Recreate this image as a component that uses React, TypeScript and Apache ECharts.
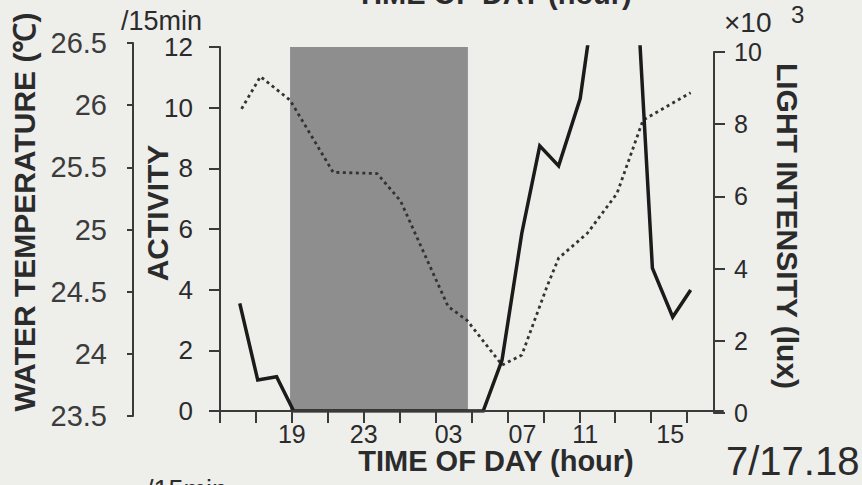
import React, { useEffect, useRef } from "react";
import * as echarts from "echarts";

// Time axis: clock hours counted on from 15:00 on 7/17 (27 = 03:00 next day)
const hourTicks = [15, 17, 19, 21, 23, 25, 27, 29, 31, 33, 35, 37, 39, 41];
const hourLabelAt = [19, 23, 27, 31, 35, 39];

// Dark period (lights off), in the same clock hours
const darkStart = 18.9;
const darkEnd = 28.8;

// Activity counts per 15 min
const activityHours = [
  16.1, 17.1, 18.15, 19.1, 20.1, 21.1, 22.1, 23.1, 24.1, 25.1, 26.1, 27.1, 28.1,
  29.1, 29.65, 30.7, 31.8, 32.8, 33.85, 35.05, 36.05, 37.05, 38.05, 39.07, 40.2, 41.2,
];
const activityValues = [
  3.55, 1.02, 1.13, 0, 0, 0, 0, 0, 0, 0, 0, 0, 0,
  0, 0, 1.68, 5.86, 8.74, 8.08, 10.3, 14.5, 16, 15.6, 4.71, 3.1, 3.99,
];

// Water temperature (°C)
const tempHours = [
  16.2, 17.25, 18.9, 21.3, 23.75, 25.05, 26.7, 27.7, 28.75, 30.7, 31.8, 33.2,
  33.85, 35.45, 37.1, 38.55, 41.2,
];
const tempValues = [
  25.97, 26.23, 26.04, 25.46, 25.45, 25.23, 24.7, 24.38, 24.27, 23.91, 23.99,
  24.54, 24.77, 24.97, 25.29, 25.88, 26.1,
];

// Axis tick settings
const activityTicks = { min: 0, max: 12, interval: 2 };
const lightTicks = { min: 0, max: 10, interval: 2 };
const tempTicks = { min: 23.5, max: 26.5, interval: 0.5 };

const FONT = "'Liberation Sans', Arial, Helvetica, sans-serif";
const INK = "#2b2b2b";
const AXIS = "#3a3a3a";
const BG = "#eeeeeb";

// Small horizontal nudges of the hour labels (px)
const labelNudge: Record<number, number> = { 19: 0, 23: 0, 27: 13, 31: 15, 35: 6, 39: 19 };

export default function App() {
  const ref = useRef<HTMLDivElement>(null);

  useEffect(() => {
    document.body.style.margin = "0";
    document.body.style.background = BG;
    if (!ref.current) return;
    const chart = echarts.init(ref.current, undefined, { renderer: "svg" });

    const pairs = (xs: number[], ys: number[]) => xs.map((x, i) => [x, ys[i]]);

    const rich: Record<string, any> = {};
    hourLabelAt.forEach((h) => {
      rich["h" + h] = {
        fontSize: 25,
        fontFamily: FONT,
        color: INK,
        padding: [0, 0, 0, labelNudge[h] * 2],
      };
    });

    const gridBase = { left: 220, right: 139, outerBoundsMode: "none", containLabel: false };

    const hiddenX = (gridIndex: number) => ({
      type: "value",
      gridIndex,
      min: 15,
      max: 43,
      show: false,
    });

    const boldText = (text: string, x: number, y: number, rotation: number, size: number) => ({
      type: "text",
      x,
      y,
      rotation,
      silent: true,
      style: {
        text,
        fill: INK,
        font: `bold ${size}px ${FONT}`,
        align: "center",
        verticalAlign: "middle",
      },
    });

    const plainText = (
      text: string,
      x: number,
      y: number,
      size: number,
      align: string = "left"
    ) => ({
      type: "text",
      x,
      y,
      silent: true,
      style: {
        text,
        fill: INK,
        font: `${size}px ${FONT}`,
        align,
        verticalAlign: "middle",
      },
    });

    chart.setOption({
      animation: false,
      backgroundColor: BG,
      grid: [
        { ...gridBase, top: 47, bottom: 74 },
        { ...gridBase, top: 52, bottom: 72 },
        { ...gridBase, top: 43, bottom: 69 },
      ],
      xAxis: [
        {
          type: "value",
          gridIndex: 0,
          min: 15,
          max: 43,
          z: 5,
          splitLine: { show: false },
          axisLine: { show: true, lineStyle: { color: AXIS, width: 2 } },
          axisTick: {
            show: true,
            customValues: hourTicks,
            length: 12,
            inside: false,
            lineStyle: { color: AXIS, width: 2 },
          },
          axisLabel: {
            customValues: hourLabelAt,
            margin: 10,
            fontSize: 25,
            fontFamily: FONT,
            color: INK,
            formatter: (v: number) => {
              const h = Math.round(v);
              const s = String(h % 24).padStart(2, "0");
              return `{h${h}|${s}}`;
            },
            rich,
          },
        },
        hiddenX(1),
        hiddenX(2),
      ],
      yAxis: [
        {
          type: "value",
          gridIndex: 0,
          position: "left",
          ...activityTicks,
          z: 5,
          splitLine: { show: false },
          axisLine: { show: true, lineStyle: { color: AXIS, width: 2 } },
          axisTick: { show: true, length: 11, inside: false, lineStyle: { color: AXIS, width: 2 } },
          axisLabel: { margin: 27, fontSize: 26, fontFamily: FONT, color: INK },
        },
        {
          type: "value",
          gridIndex: 1,
          position: "right",
          offset: -9,
          ...lightTicks,
          z: 5,
          splitLine: { show: false },
          axisLine: { show: true, lineStyle: { color: AXIS, width: 2 } },
          axisTick: { show: true, length: 11, inside: false, lineStyle: { color: AXIS, width: 2 } },
          axisLabel: { margin: 20, fontSize: 25, fontFamily: FONT, color: INK },
        },
        {
          type: "value",
          gridIndex: 2,
          position: "left",
          offset: 87,
          ...tempTicks,
          z: 5,
          splitLine: { show: false },
          axisLine: { show: true, lineStyle: { color: AXIS, width: 2 } },
          axisTick: { show: true, length: 6, inside: false, lineStyle: { color: AXIS, width: 2 } },
          axisLabel: {
            margin: 26,
            fontSize: 29,
            fontFamily: FONT,
            color: "#3c3c3c",
            formatter: (v: number) => (Number.isInteger(v) ? String(v) : v.toFixed(1)),
          },
        },
      ],
      series: [
        {
          name: "ACTIVITY",
          type: "line",
          xAxisIndex: 0,
          yAxisIndex: 0,
          data: pairs(activityHours, activityValues),
          symbol: "none",
          clip: true,
          z: 4,
          lineStyle: { color: "#1b1b1b", width: 3.5, join: "miter" },
          markArea: {
            silent: true,
            itemStyle: { color: "#8e8e8e", opacity: 1 },
            label: { show: false },
            data: [[{ xAxis: darkStart }, { xAxis: darkEnd }]],
          },
        },
        {
          name: "WATER TEMPERATURE",
          type: "line",
          xAxisIndex: 2,
          yAxisIndex: 2,
          data: pairs(tempHours, tempValues),
          symbol: "none",
          clip: true,
          z: 3,
          lineStyle: { color: "#333333", width: 2.8, type: [3, 3.5] },
        },
      ],
      graphic: [
        boldText("WATER TEMPERATURE (℃)", 24, 212, Math.PI / 2, 30),
        boldText("ACTIVITY", 157, 213, Math.PI / 2, 30),
        boldText("LIGHT INTENSITY (lux)", 787, 226, -Math.PI / 2, 30),
        boldText("TIME OF DAY (hour)", 496, 461, 0, 29),
        boldText("TIME OF DAY (hour)", 494, -6, 0, 29),
        plainText("/15min", 121, 21, 27),
        plainText("×10", 724, 22, 28),
        plainText("3", 791, 14, 24),
        plainText("7/17.18", 726, 461, 40),
        plainText("/15min", 146, 490, 27),
        plainText("3", 764, 495, 27),
      ],
    });

    return () => chart.dispose();
  }, []);

  return <div ref={ref} style={{ width: 862, height: 485, background: BG }} />;
}
